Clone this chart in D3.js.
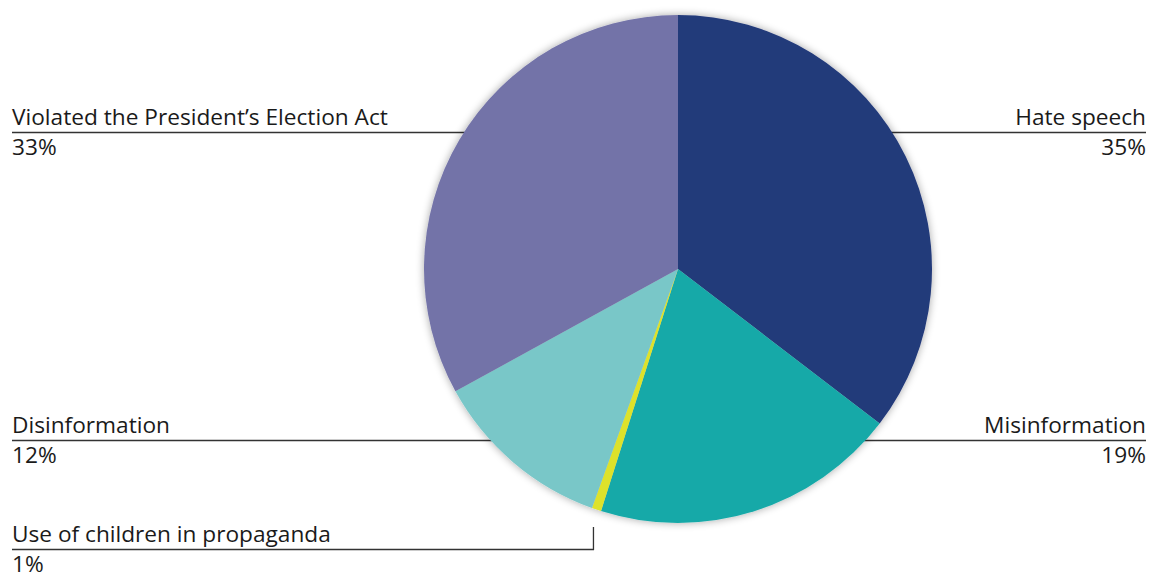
<!DOCTYPE html>
<html>
<head>
<meta charset="utf-8">
<script src="https://cdn.jsdelivr.net/npm/d3@7"></script>
<style>
  html, body { margin: 0; padding: 0; background: #fff; }
  svg { display: block; }
  text { font-family: "Open Sans", Lato, sans-serif; fill: #1a1a1a; font-variant-ligatures: none; }
</style>
</head>
<body>
<svg id="chart" width="1152" height="574"></svg>
<script>
// Data
const categories = ["Hate speech", "Misinformation", "Use of children in propaganda", "Disinformation", "Violated the President\u2019s Election Act"];
const values = [35.4, 19.5, 0.6, 11.5, 33.0];
const percentLabels = ["35%", "19%", "1%", "12%", "33%"];
const colors = ["#243a7a", "#17a9a8", "#dde22c", "#79c7c8", "#7373a8"];

const W = 1152, H = 574;
const cx = 678, cy = 269, R = 254;
const svg = d3.select("#chart");

// Label layout: side and leader line y
const labelSide = ["right", "right", "left", "left", "left"];
const labelLineY = [132.5, 440.5, 549.5, 440.5, 132.5];
const leftX = 12, rightX = 1146;

const defs = svg.append("defs");
const f = defs.append("filter").attr("id", "shadow")
  .attr("x", "-10%").attr("y", "-10%").attr("width", "120%").attr("height", "120%");
f.append("feGaussianBlur").attr("in", "SourceAlpha").attr("stdDeviation", 4).attr("result", "blur");
f.append("feComponentTransfer").attr("in", "blur").attr("result", "sh")
  .append("feFuncA").attr("type", "linear").attr("slope", 0.35);
const m = f.append("feMerge");
m.append("feMergeNode").attr("in", "sh");
m.append("feMergeNode").attr("in", "SourceGraphic");

const pie = d3.pie().sort(null).value(d => d)(values);
const arc = d3.arc().innerRadius(0).outerRadius(R);

// Leader lines
const lines = svg.append("g").attr("stroke", "#333").attr("stroke-width", 1.3).attr("fill", "none");
pie.forEach((p, i) => {
  const y = labelLineY[i];
  const dy = y - cy;
  const edge = Math.sqrt(Math.max(0, R * R - dy * dy));
  if (i === 2) {
    const ex = cx + R * Math.sin(p.endAngle);
    const ey = cy - R * Math.cos(p.endAngle);
    const vx = ex + 1.5;
    lines.append("path").attr("d", `M${leftX},${y}H${vx}V${ey + 19}`);
  } else if (labelSide[i] === "right") {
    lines.append("line").attr("x1", cx + edge - 2).attr("x2", rightX).attr("y1", y).attr("y2", y);
  } else {
    lines.append("line").attr("x1", leftX).attr("x2", cx - edge + 2).attr("y1", y).attr("y2", y);
  }
});

// Pie
svg.append("g").attr("transform", `translate(${cx},${cy})`).attr("filter", "url(#shadow)")
  .selectAll("path").data(pie).join("path")
  .attr("d", arc).attr("fill", (d, i) => colors[i]);

// Labels: size the font so the longest label matches the reference width
const probe = svg.append("text").attr("font-size", 20).text(categories[4]);
const w = probe.node().getComputedTextLength();
probe.remove();
const fs = 20 * 376 / w;
const tg = svg.append("g").attr("font-size", fs);
categories.forEach((c, i) => {
  const right = labelSide[i] === "right";
  const x = right ? rightX : leftX;
  const anchor = right ? "end" : "start";
  tg.append("text").attr("x", x).attr("y", labelLineY[i] - 7.5).attr("text-anchor", anchor).text(c);
  tg.append("text").attr("x", x).attr("y", labelLineY[i] + 22.5).attr("text-anchor", anchor).text(percentLabels[i]);
});
</script>
</body>
</html>
